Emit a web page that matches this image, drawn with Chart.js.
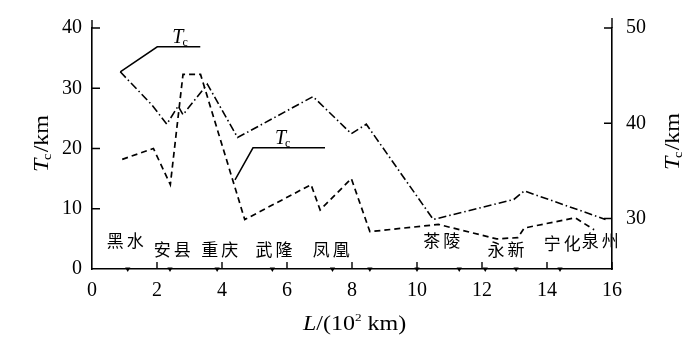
<!DOCTYPE html>
<html>
<head>
<meta charset="utf-8">
<script src="https://cdn.jsdelivr.net/npm/chart.js@4.4.1/dist/chart.umd.min.js"></script>
<style>
  html, body { margin: 0; padding: 0; background: #fff; }
  #wrap { width: 700px; height: 342px; position: relative; }
</style>
</head>
<body>
<div id="wrap"><canvas id="profileChart"></canvas></div>
<script>
/* datos del perfil */
const crustX = [0.87, 1.85, 2.3, 2.65, 2.8, 3.55, 4.48, 6.8, 7.98, 8.44, 10.5, 12.98, 13.3, 15.8];
const crustTc = [45.4, 41.9, 39.9, 41.8, 40.9, 44.1, 38.5, 42.8, 38.9, 39.9, 29.9, 32.0, 32.9, 29.9];

const teX = [0.93, 1.89, 2.41, 2.8, 3.34, 4.7, 6.74, 7.02, 7.98, 8.55, 10.66, 12.45, 13.1, 13.3, 14.87, 15.45];
const teVal = [18.2, 20.0, 14.0, 32.3, 32.3, 8.2, 14.0, 9.8, 15.0, 6.2, 7.4, 5.0, 5.2, 6.8, 8.5, 6.5];

const markerX = [1.1, 2.4, 3.85, 5.55, 7.4, 8.55, 10.0, 11.3, 12.1, 13.05, 14.4];

const stationNames = ['黑水', '安县', '重庆', '武隆', '凤凰', '茶陵', '永新', '宁化', '泉州'];
const stationX = [1.02, 2.47, 3.93, 5.6, 7.36, 10.76, 12.74, 14.47, 15.64];
const stationY = [4.7, 3.3, 3.3, 3.3, 3.3, 4.7, 3.3, 4.3, 4.8];

const xTicks = [0, 2, 4, 6, 8, 10, 12, 14, 16];
const leftTicks = [0, 10, 20, 30, 40];
const rightTicks = [30, 40, 50];

const serif = "'Liberation Serif', 'DejaVu Serif', serif";
const cjk = "'Noto Sans CJK SC', sans-serif";

// dibuja T con subindice c
function drawTsub(ctx, x, y, rest) {
    ctx.textBaseline = 'alphabetic';
    ctx.textAlign = 'left';
    ctx.font = 'italic 20px ' + serif;
    ctx.fillText('T', x, y);
    let w = ctx.measureText('T').width;
    ctx.font = '12px ' + serif;
    ctx.fillText('c', x + w - 1, y + 3);
    w += ctx.measureText('c').width - 1;
    if (rest) {
        ctx.font = '20px ' + serif;
        ctx.fillText(rest, x + w + 1, y);
        w += ctx.measureText(rest).width + 1;
    }
    return w;
}

function widthTsub(ctx, rest) {
    ctx.font = 'italic 20px ' + serif;
    let w = ctx.measureText('T').width;
    ctx.font = '12px ' + serif;
    w += ctx.measureText('c').width - 1;
    ctx.font = '20px ' + serif;
    w += ctx.measureText(rest).width + 1;
    return w;
}

const extrasPlugin = {
    id: 'extras',
    afterDraw(chart) {
        const ctx = chart.ctx;
        const x = chart.scales.x;
        const yL = chart.scales.yL;
        const yR = chart.scales.yR;
        const area = chart.chartArea;
        ctx.save();
        ctx.strokeStyle = '#000';
        ctx.fillStyle = '#000';
        ctx.lineWidth = 1.4;

        // ticks hacia adentro + ejes un poco mas largos arriba
        ctx.beginPath();
        xTicks.forEach(v => {
            if (v === 0) return;
            const px = x.getPixelForValue(v);
            ctx.moveTo(px, area.bottom);
            ctx.lineTo(px, area.bottom - 7);
        });
        leftTicks.forEach(v => {
            if (v === 0) return;
            const py = yL.getPixelForValue(v);
            ctx.moveTo(area.left, py);
            ctx.lineTo(area.left + 8, py);
        });
        rightTicks.forEach(v => {
            const py = yR.getPixelForValue(v);
            ctx.moveTo(area.right, py);
            ctx.lineTo(area.right - 8, py);
        });
        ctx.moveTo(area.left, area.top);
        ctx.lineTo(area.left, area.top - 8);
        ctx.moveTo(area.right, area.top);
        ctx.lineTo(area.right, area.top - 10);
        ctx.stroke();

        // nombres de estaciones
        ctx.font = '17px ' + cjk;
        ctx.letterSpacing = '3px';
        ctx.textAlign = 'center';
        ctx.textBaseline = 'middle';
        stationNames.forEach((name, i) => {
            ctx.fillText(name, x.getPixelForValue(stationX[i]) + 1.5, yL.getPixelForValue(stationY[i]));
        });
        ctx.letterSpacing = '0px';

        // llamadas Tc
        ctx.lineWidth = 1.5;
        const a1x = x.getPixelForValue(crustX[0]);
        const a1y = yR.getPixelForValue(crustTc[0]);
        ctx.beginPath();
        ctx.moveTo(a1x, a1y);
        ctx.lineTo(a1x + 37, a1y - 25);
        ctx.lineTo(a1x + 80, a1y - 25);
        ctx.stroke();
        drawTsub(ctx, a1x + 52, a1y - 29);

        const a2x = x.getPixelForValue(4.4);
        const a2y = yL.getPixelForValue(14.8);
        ctx.beginPath();
        ctx.moveTo(a2x, a2y);
        ctx.lineTo(a2x + 18, a2y - 32);
        ctx.lineTo(a2x + 90, a2y - 32);
        ctx.stroke();
        drawTsub(ctx, a2x + 40, a2y - 36);

        // titulos de ejes
        const midY = (area.top + area.bottom) / 2;
        [[42, midY - 5], [673, midY - 7]].forEach(([cx, cy]) => {
            ctx.save();
            ctx.translate(cx + 6, cy);
            ctx.rotate(-Math.PI / 2);
            ctx.scale(1.2, 1);
            const w = widthTsub(ctx, '/km');
            drawTsub(ctx, -w / 2, 0, '/km');
            ctx.restore();
        });

        // titulo eje x
        ctx.save();
        ctx.translate(303, 330);
        ctx.scale(1.2, 1);
        ctx.textBaseline = 'alphabetic';
        ctx.textAlign = 'left';
        ctx.font = 'italic 20px ' + serif;
        ctx.fillText('L', 0, 0);
        let w = ctx.measureText('L').width;
        ctx.font = '20px ' + serif;
        ctx.fillText('/(10', w, 0);
        w += ctx.measureText('/(10').width;
        ctx.font = '11px ' + serif;
        ctx.fillText('2', w, -9);
        w += ctx.measureText('2').width + 5;
        ctx.font = '20px ' + serif;
        ctx.fillText('km)', w, 0);
        ctx.restore();
        ctx.restore();
    }
};

const ctx = document.getElementById('profileChart').getContext('2d');
new Chart(ctx, {
    type: 'line',
    data: {
        datasets: [{
            label: 'Tc',
            data: crustX.map((v, i) => ({ x: v, y: crustTc[i] })),
            yAxisID: 'yR',
            borderColor: '#000',
            borderWidth: 1.6,
            borderDash: [8, 3, 1.5, 3],
            pointRadius: 0,
            tension: 0,
            fill: false
        }, {
            label: 'Te',
            data: teX.map((v, i) => ({ x: v, y: teVal[i] })),
            yAxisID: 'yL',
            borderColor: '#000',
            borderWidth: 1.7,
            borderDash: [6, 4],
            pointRadius: 0,
            tension: 0,
            fill: false
        }, {
            label: 'estaciones',
            data: markerX.map(v => ({ x: v, y: 0 })),
            yAxisID: 'yL',
            showLine: false,
            pointStyle: 'triangle',
            rotation: 180,
            pointRadius: 3,
            backgroundColor: '#000',
            borderColor: '#000',
            borderWidth: 0,
            clip: false
        }]
    },
    options: {
        responsive: true,
        maintainAspectRatio: false,
        animation: false,
        layout: { padding: { top: 28, left: 0, right: 0, bottom: 0 } },
        plugins: {
            legend: { display: false },
            tooltip: { enabled: false }
        },
        scales: {
            x: {
                type: 'linear',
                min: 0,
                max: 16,
                afterBuildTicks: s => { s.ticks = xTicks.map(v => ({ value: v })); },
                afterFit: s => { s.height = 73; },
                grid: { display: false, drawTicks: false },
                border: { display: true, color: '#000', width: 1.6 },
                ticks: { color: '#000', padding: 10, font: { family: serif, size: 20 } }
            },
            yL: {
                position: 'left',
                min: 0,
                max: 40,
                afterBuildTicks: s => { s.ticks = leftTicks.map(v => ({ value: v })); },
                afterFit: s => { s.width = 92; },
                grid: { display: false, drawTicks: false },
                border: { display: true, color: '#000', width: 1.6 },
                ticks: { color: '#000', padding: 10, font: { family: serif, size: 20 } }
            },
            yR: {
                position: 'right',
                min: 24.7,
                max: 50,
                afterBuildTicks: s => { s.ticks = rightTicks.map(v => ({ value: v })); },
                afterFit: s => { s.width = 88; },
                grid: { display: false, drawTicks: false },
                border: { display: true, color: '#000', width: 1.6 },
                ticks: { color: '#000', padding: 14, font: { family: serif, size: 20 } }
            }
        }
    },
    plugins: [extrasPlugin]
});
</script>
</body>
</html>
